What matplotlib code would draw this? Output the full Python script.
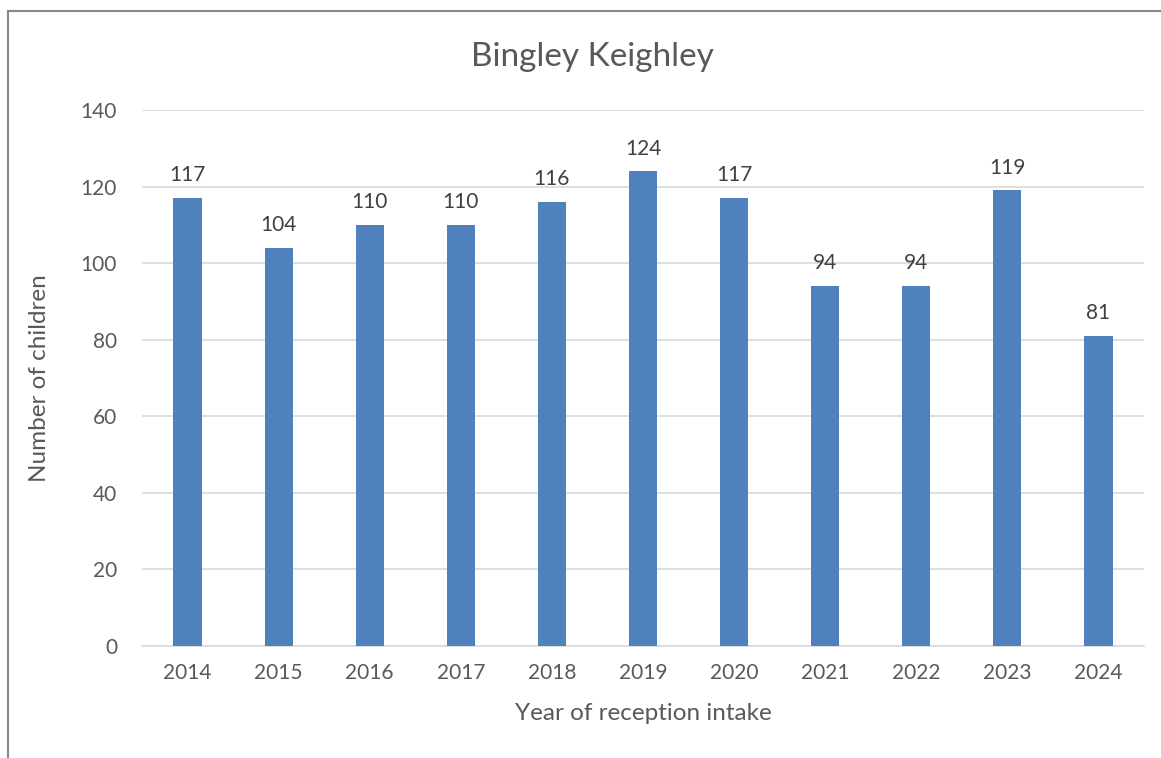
import matplotlib.pyplot as plt
from matplotlib.lines import Line2D

# Data
years = ['2014', '2015', '2016', '2017', '2018', '2019', '2020', '2021', '2022', '2023', '2024']
children = [117, 104, 110, 110, 116, 124, 117, 94, 94, 119, 81]
y_ticks = [0, 20, 40, 60, 80, 100, 120, 140]

plt.rcParams['font.family'] = ['Lato', 'DejaVu Sans']

fig = plt.figure(figsize=(11.61, 7.58), dpi=100)
ax = fig.add_axes([142 / 1161, 1 - 646 / 758, (1144 - 142) / 1161, (646 - 110) / 758])

x = range(len(years))
bars = ax.bar(x, children, width=0.31, color='#4F81BD', zorder=3)
for xi, v in zip(x, children):
    ax.text(xi, v + 3.3, str(v), ha='center', va='bottom', fontsize=15, color='#404040')

ax.set_xlim(-0.5, len(years) - 0.5)
ax.set_ylim(0, 140)
ax.set_yticks(y_ticks)
ax.set_xticks(list(x))
ax.set_xticklabels(years)
ax.tick_params(axis='both', length=0, labelsize=15, labelcolor='#595959')
ax.tick_params(axis='y', pad=18)
ax.tick_params(axis='x', pad=12)
ax.grid(axis='y', color='#D9D9D9', linewidth=1.2, zorder=0)
for side in ['top', 'right', 'left']:
    ax.spines[side].set_visible(False)
ax.spines['bottom'].set_color('#D9D9D9')
ax.spines['bottom'].set_linewidth(1.2)

ax.set_xlabel('Year of reception intake', fontsize=17.5, color='#595959', labelpad=15)
ax.set_ylabel('Number of children', fontsize=17.5, color='#595959', labelpad=22)
fig.text(592 / 1161, 1 - 57 / 758, 'Bingley Keighley', ha='center', va='center',
         fontsize=24, color='#595959')

# outer chart border (partly cut off in the reference)
fig.add_artist(Line2D([8 / 1161, 8 / 1161], [0, 1 - 11 / 758], transform=fig.transFigure,
                      color='#878787', linewidth=1.5))
fig.add_artist(Line2D([8 / 1161, 1], [1 - 11 / 758, 1 - 11 / 758], transform=fig.transFigure,
                      color='#878787', linewidth=1.5))

fig.savefig('out.png', dpi=100)
